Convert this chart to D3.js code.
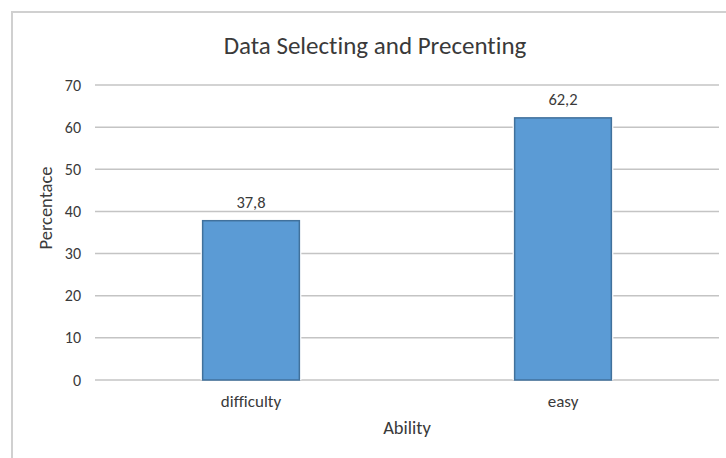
<!DOCTYPE html>
<html>
<head>
<meta charset="utf-8">
<script src="https://cdn.jsdelivr.net/npm/d3@7"></script>
<style>
	body { margin: 0; background: #fff; }
	svg text { font-family: Carlito, Calibri, Lato, 'Open Sans', sans-serif; fill: #3a3a3a; font-variant-ligatures: none; }
</style>
</head>
<body>
<div id="canvas"></div>
<script>
// values
const categories = ['difficulty', 'easy'];
const values = [37.8, 62.2];
const yTicks = [0, 10, 20, 30, 40, 50, 60, 70];

const W = 726, H = 458;
const M = {t: 85, r: 7, b: 78, l: 95}; // plot area 95..719, 85..380

const svg = d3.select('#canvas').append('svg')
	.attr('width', W)
	.attr('height', H);

// chart area border (right and bottom run off the picture)
svg.append('rect')
	.attr('x', 12).attr('y', 12)
	.attr('width', W).attr('height', H)
	.attr('fill', '#fff')
	.attr('stroke', '#d0d0d0')
	.attr('stroke-width', 2);

const x = d3.scaleBand()
	.domain(categories)
	.range([M.l, W - M.r])
	.paddingInner(0.69)
	.paddingOuter(0.345);

const y = d3.scaleLinear()
	.domain([0, 70])
	.range([H - M.b, M.t]);

const comma = d3.formatLocale({decimal: ',', thousands: '.', grouping: [3], currency: ['', '']}).format('.1f');

// gridlines
svg.append('g').attr('class', 'grid')
	.selectAll('line').data(yTicks)
	.enter().append('line')
	.attr('x1', M.l).attr('x2', W - M.r)
	.attr('y1', d => y(d)).attr('y2', d => y(d))
	.attr('stroke', '#c4c4c4')
	.attr('stroke-width', 1.5);

// y axis labels
const yAxis = svg.append('g')
	.attr('transform', 'translate(' + (M.l - 14) + ',0)')
	.call(d3.axisLeft(y).tickValues(yTicks).tickSize(0).tickPadding(0));
yAxis.select('.domain').remove();
yAxis.selectAll('text')
	.attr('font-size', 16)
	.attr('fill', '#3a3a3a')
	.style('font-family', null);

// x axis labels
const xAxis = svg.append('g')
	.attr('transform', 'translate(0,' + (H - M.b) + ')')
	.call(d3.axisBottom(x).tickSize(0).tickPadding(15));
xAxis.select('.domain').remove();
xAxis.selectAll('text')
	.attr('font-size', 17)
	.attr('fill', '#3a3a3a')
	.style('font-family', null);

// bars, with a thin white halo that cuts the gridlines
const bars = svg.append('g').attr('class', 'bars')
	.selectAll('g').data(values)
	.enter().append('g');

bars.append('rect')
	.attr('x', (d, i) => x(categories[i]) - 2)
	.attr('y', d => y(d) - 2)
	.attr('width', x.bandwidth() + 4)
	.attr('height', d => y(0) - y(d) + 2)
	.attr('fill', '#fff');

bars.append('rect')
	.attr('x', (d, i) => x(categories[i]))
	.attr('y', d => y(d))
	.attr('width', x.bandwidth())
	.attr('height', d => y(0) - y(d))
	.attr('fill', '#5b9bd5')
	.attr('stroke', '#41719c')
	.attr('stroke-width', 1.5);

bars.append('text')
	.attr('x', (d, i) => x(categories[i]) + x.bandwidth() / 2)
	.attr('y', d => y(d) - 13)
	.attr('text-anchor', 'middle')
	.attr('font-size', 16.5)
	.text(d => comma(d));

// titles
svg.append('text')
	.attr('x', 375).attr('y', 54)
	.attr('text-anchor', 'middle')
	.attr('font-size', 25)
	.text('Data Selecting and Precenting');

svg.append('text')
	.attr('x', 407).attr('y', 434)
	.attr('text-anchor', 'middle')
	.attr('font-size', 18.5)
	.text('Ability');

svg.append('text')
	.attr('transform', 'translate(52,208) rotate(-90)')
	.attr('text-anchor', 'middle')
	.attr('font-size', 18.5)
	.text('Percentace');
</script>
</body>
</html>
